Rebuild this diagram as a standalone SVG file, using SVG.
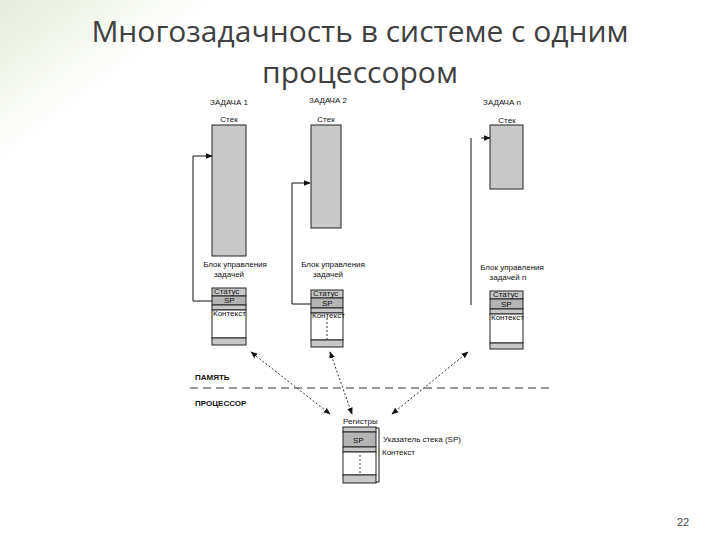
<svg xmlns="http://www.w3.org/2000/svg" width="720" height="540" viewBox="0 0 720 540">
<defs>
<style>
.t{font-family:"Liberation Sans",Arial,sans-serif;font-size:8px;fill:#111}
.g{fill:#c8c8c8;stroke:#222;stroke-width:1}
.d{fill:#b4b4b4;stroke:#222;stroke-width:1}
.w{fill:#fff;stroke:#222;stroke-width:1}
.ln{stroke:#111;stroke-width:1;fill:none}
.ds{stroke:#333;stroke-width:1;fill:none;stroke-dasharray:2 2}
</style>
<marker id="a" viewBox="0 0 10 10" refX="9" refY="5" markerWidth="7" markerHeight="7" orient="auto-start-reverse"><path d="M0,1 L10,5 L0,9 z" fill="#111"/></marker>
<linearGradient id="bg" x1="0" y1="0" x2="1" y2="1"><stop offset="0" stop-color="#e4ecd8"/><stop offset="0.15" stop-color="#fff"/></linearGradient>
</defs>
<rect width="720" height="540" fill="url(#bg)"/>
<g id="title" font-family="'Open Sans','Liberation Sans',sans-serif" font-size="30" fill="#404040" text-anchor="middle">
<text x="360" y="42">Многозадачность в системе с одним</text>
<text x="360" y="83">процессором</text>
</g>
<g id="task1">
<text class="t" x="229" y="105" text-anchor="middle">ЗАДАЧА 1</text>
<text class="t" x="229" y="122" text-anchor="middle">Стек</text>
<rect class="g" x="212" y="125" width="34" height="131"/>
<text class="t" x="235" y="267" text-anchor="middle">Блок управления</text>
<text class="t" x="229" y="277" text-anchor="middle">задачей</text>
<rect class="g" x="212" y="288" width="34" height="8"/>
<rect class="d" x="212" y="296" width="34" height="9"/>
<rect class="g" x="212" y="305" width="34" height="5"/>
<rect class="w" x="212" y="310" width="34" height="28"/>
<rect class="g" x="212" y="338" width="34" height="7"/>
<text class="t" x="214" y="294" font-size="6">Статус</text>
<text class="t" x="224" y="303" font-size="7">SP</text>
<text class="t" x="213" y="316" font-size="6">Контекст</text>
</g>
<g id="task2">
<text class="t" x="328" y="103" text-anchor="middle">ЗАДАЧА 2</text>
<text class="t" x="326" y="122" text-anchor="middle">Стек</text>
<rect class="g" x="311" y="125" width="30" height="103"/>
<text class="t" x="333" y="267" text-anchor="middle">Блок управления</text>
<text class="t" x="328" y="277" text-anchor="middle">задачей</text>
<rect class="g" x="311" y="290" width="32" height="8"/>
<rect class="d" x="311" y="298" width="32" height="10"/>
<rect class="g" x="311" y="308" width="32" height="5"/>
<rect class="w" x="311" y="313" width="32" height="27"/>
<rect class="g" x="311" y="340" width="32" height="7"/>
<line class="ds" x1="327" y1="318" x2="327" y2="340"/>
<text class="t" x="313" y="296" font-size="6">Статус</text>
<text class="t" x="322" y="306" font-size="7">SP</text>
<text class="t" x="312" y="318" font-size="6">Контекст</text>
</g>
<g id="taskn">
<text class="t" x="502" y="105" text-anchor="middle">ЗАДАЧА n</text>
<text class="t" x="507" y="123" text-anchor="middle">Стек</text>
<rect class="g" x="490" y="125" width="33" height="64"/>
<text class="t" x="512" y="270" text-anchor="middle">Блок управления</text>
<text class="t" x="508" y="280" text-anchor="middle">задачей n</text>
<rect class="g" x="490" y="291" width="33" height="8"/>
<rect class="d" x="490" y="299" width="33" height="10"/>
<rect class="g" x="490" y="309" width="33" height="5"/>
<rect class="w" x="490" y="314" width="33" height="29"/>
<rect class="g" x="490" y="343" width="33" height="6"/>
<text class="t" x="493" y="297" font-size="6">Статус</text>
<text class="t" x="501" y="307" font-size="7">SP</text>
<text class="t" x="491" y="320" font-size="6">Контекст</text>
</g>
<g id="cpu">
<text class="t" x="195" y="380" font-weight="bold" font-size="7">ПАМЯТЬ</text>
<text class="t" x="195" y="406" font-weight="bold" font-size="7">ПРОЦЕССОР</text>
<text class="t" x="343" y="424">Регистры</text>
<rect class="g" x="343" y="427" width="33" height="5"/>
<rect class="d" x="343" y="432" width="33" height="15"/>
<rect class="g" x="343" y="447" width="33" height="5"/>
<rect class="w" x="343" y="452" width="33" height="23"/>
<rect class="g" x="343" y="475" width="33" height="8"/>
<line class="ds" x1="360" y1="455" x2="360" y2="474"/>
<text class="t" x="353" y="443">SP</text>
<path class="ln" d="M376,428 L379,428 L379,482 L376,482" stroke-width="0.8"/>
<text class="t" x="383" y="442">Указатель стека (SP)</text>
<text class="t" x="382" y="455">Контекст</text>
</g>
<g id="connectors">
<polyline class="ln" points="212,301 193,301 193,156 212,156" marker-end="url(#a)"/>
<polyline class="ln" points="311,304 292,304 292,183 310,183" marker-end="url(#a)"/>
<line class="ln" x1="471" y1="138" x2="471" y2="305"/>
<line class="ln" x1="481" y1="138" x2="490" y2="138" marker-end="url(#a)" stroke-width="2"/>
<line class="ds" x1="330" y1="414" x2="251" y2="352" marker-start="url(#a)" marker-end="url(#a)"/>
<line class="ds" x1="352" y1="414" x2="330" y2="352" marker-start="url(#a)" marker-end="url(#a)"/>
<line class="ds" x1="392" y1="414" x2="468" y2="352" marker-start="url(#a)" marker-end="url(#a)"/>
<line x1="190" y1="388" x2="552" y2="388" stroke="#333" stroke-width="1" stroke-dasharray="8 5"/>
</g>
<text x="677" y="526" font-family="'Liberation Sans',sans-serif" font-size="11" fill="#444">22</text>
</svg>
